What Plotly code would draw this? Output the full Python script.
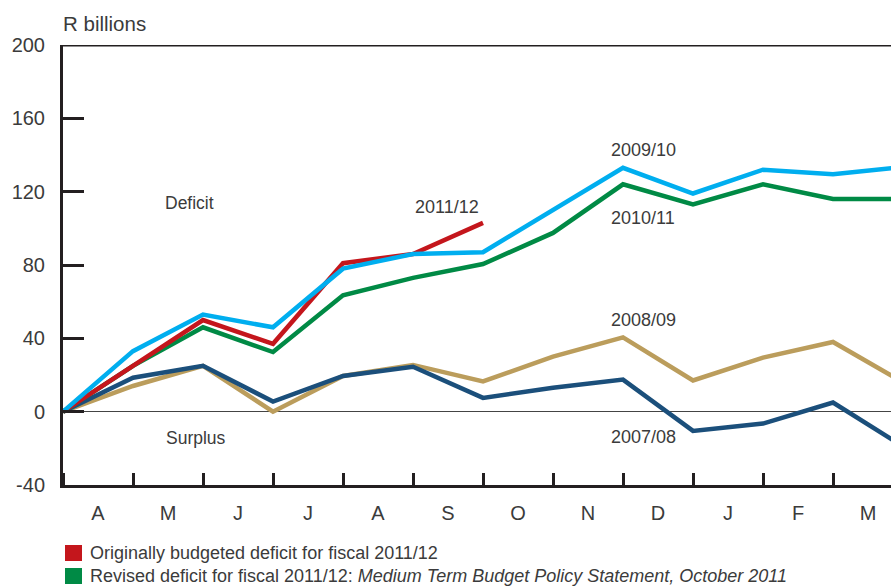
import plotly.graph_objects as go

# Cumulative budget balance by month of the fiscal year (R billions)
months = ["A", "M", "J", "J", "A", "S", "O", "N", "D", "J", "F", "M"]
steps = list(range(13))  # start of year + end of each month

fy_2007_08 = [0, 18.5, 25, 5.5, 19.5, 24.5, 7.5, 13, 17.5, -10.5, -6.5, 5, -19]
fy_2008_09 = [0, 14, 25, 0, 19.5, 25.5, 16.5, 30, 40.5, 17, 29.5, 38, 16]
fy_2010_11 = [0, 25, 46, 32.5, 63.5, 73, 80.5, 97.5, 124, 113, 124, 116, 116]
fy_2011_12 = [0, 25, 50, 37, 81, 86, 103]
fy_2009_10 = [0, 33, 53, 46, 78, 86, 87, 110, 133, 119, 132, 129.5, 133.5]

y_ticks = [-40, 0, 40, 80, 120, 160, 200]
y_tick_text = ["-40", "0", "40", "80", "120", "160", "200"]

NAVY = "#1b4f7b"
GOLD = "#bb9d5c"
GREEN = "#008a45"
RED = "#c4161c"
CYAN = "#00aeef"
INK = "#231f20"
TEXT = "#3b3b3b"
FONT = "Liberation Sans, Arial, sans-serif"

series = [
    (fy_2008_09, GOLD),
    (fy_2007_08, NAVY),
    (fy_2010_11, GREEN),
    (fy_2011_12, RED),
    (fy_2009_10, CYAN),
]

fig = go.Figure()
for vals, col in series:
    fig.add_trace(go.Scatter(
        x=steps[:len(vals)], y=vals, mode="lines",
        line=dict(color=col, width=4.5),
        hoverinfo="skip", showlegend=False,
    ))

fig.update_layout(
    width=891, height=586,
    margin=dict(l=63, r=0, t=45, b=101),
    paper_bgcolor="white", plot_bgcolor="white",
    font=dict(family=FONT, color=TEXT),
    showlegend=False,
)

fig.update_xaxes(
    range=[0, 828 / 70],
    tickvals=[i + 0.5 for i in range(len(months))],
    ticktext=months, ticks="",
    tickfont=dict(size=20, color=TEXT),
    ticklabelstandoff=8,
    minor=dict(tick0=0, dtick=1, ticks="inside", ticklen=12,
               tickwidth=3, tickcolor=INK, showgrid=False),
    showgrid=False, zeroline=False,
    showline=True, linecolor=INK, linewidth=3,
)
fig.update_yaxes(
    range=[-40, 200],
    tickvals=y_ticks, ticktext=y_tick_text,
    ticks="inside", ticklen=21, tickwidth=3, tickcolor=INK,
    tickfont=dict(size=20, color=TEXT),
    ticklabelstandoff=11,
    showgrid=False, zeroline=True, zerolinecolor="#444444", zerolinewidth=1.2,
    showline=True, linecolor=INK, linewidth=3,
)

# Top edge of the frame
fig.add_shape(type="line", xref="paper", yref="y", x0=0, x1=1, y0=200, y1=200,
              line=dict(color=INK, width=3))

def label(x, y, text, size=18):
    fig.add_annotation(x=x, y=y, text=text, showarrow=False,
                       font=dict(size=size, color=TEXT, family=FONT))

label(1.81, 114, "Deficit", 17.5)
label(1.9, -14.3, "Surplus", 17.5)
label(5.49, 111.7, "2011/12")
label(8.29, 142.8, "2009/10")
label(8.29, 105.7, "2010/11")
label(8.29, 50, "2008/09")
label(8.29, -13.8, "2007/08")

fig.add_annotation(xref="paper", yref="paper", x=0, y=1, xshift=-2, yshift=8,
                   xanchor="left", yanchor="bottom", text="R billions",
                   showarrow=False, font=dict(size=20.5, color=TEXT, family=FONT))

# Key entries below the axis
key = [
    (RED, "Originally budgeted deficit for fiscal 2011/12", 553),
    (GREEN, "Revised deficit for fiscal 2011/12: <i>Medium Term Budget Policy Statement, October 2011</i>", 576),
]
plot_h = 440
for col, txt, py in key:
    yc = (485 - py) / plot_h
    half = 8 / plot_h
    fig.add_shape(type="rect", xref="paper", yref="paper",
                  x0=2 / 828, x1=19 / 828, y0=yc - half, y1=yc + half,
                  fillcolor=col, line=dict(width=0))
    fig.add_annotation(xref="paper", yref="paper", x=25 / 828, y=yc,
                       xanchor="left", yanchor="middle", text=txt,
                       showarrow=False, font=dict(size=18, color=TEXT, family=FONT))

fig.write_html("out.html")
